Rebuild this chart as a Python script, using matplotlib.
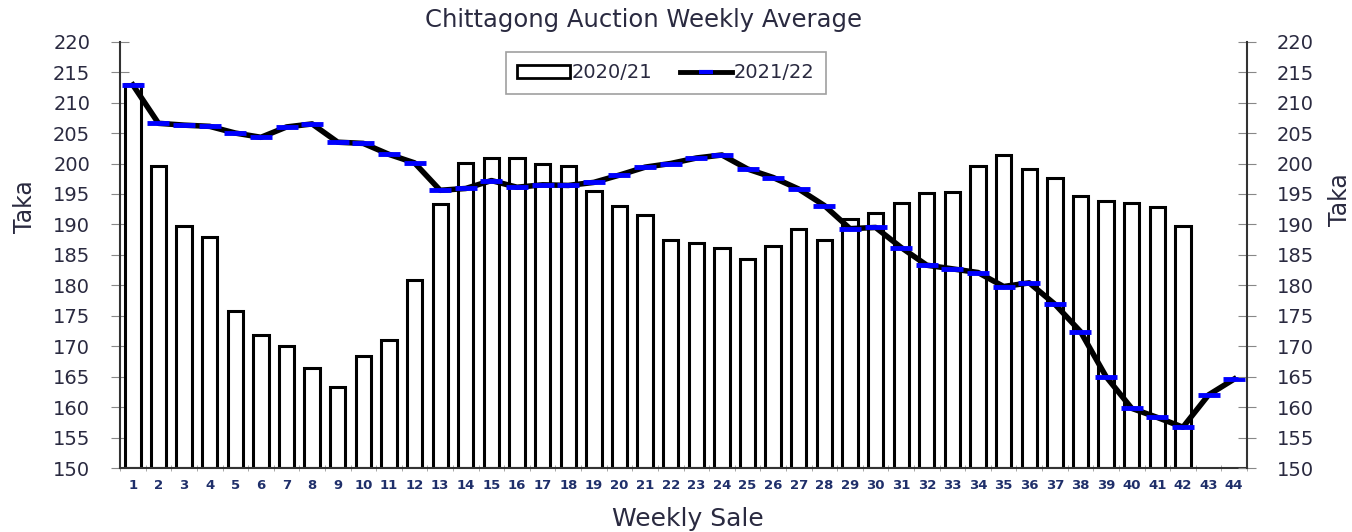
import numpy as np
import matplotlib
matplotlib.use('Agg')
import matplotlib.pyplot as plt
from matplotlib.patches import Patch
from matplotlib.lines import Line2D

weeks = list(range(1, 45))
# 2020/21 bars (only 42 weeks)
sale_2021 = [213.0, 199.6, 189.7, 187.9, 175.8, 171.9, 170.1, 166.5, 163.3, 168.4,
             171.1, 180.8, 193.4, 200.1, 200.9, 200.9, 200.0, 199.6, 195.5, 193.0,
             191.6, 187.5, 186.9, 186.1, 184.4, 186.5, 189.3, 187.5, 190.9, 191.8,
             193.5, 195.1, 195.3, 199.6, 201.4, 199.1, 197.7, 194.6, 193.9, 193.5,
             192.8, 189.7]
# 2021/22 line
sale_2122 = [212.9, 206.6, 206.3, 206.1, 205.0, 204.3, 206.0, 206.5, 203.5, 203.3,
             201.5, 200.1, 195.6, 195.9, 197.2, 196.1, 196.5, 196.4, 196.9, 198.1,
             199.4, 200.0, 200.9, 201.4, 199.1, 197.7, 195.8, 193.1, 189.3, 189.5,
             186.2, 183.3, 182.7, 182.1, 179.8, 180.4, 176.9, 172.4, 165.0, 159.8,
             158.3, 156.7, 162.0, 164.6]
yticks = list(range(150, 221, 5))

txt = '#2a2a40'
plt.rcParams['font.family'] = ['DejaVu Sans']

fig = plt.figure(figsize=(13.52, 5.32), dpi=100)
ax = fig.add_axes([0.0888, 0.1203, 0.8335, 0.8013])

ax.bar(weeks[:len(sale_2021)], [v - 150 for v in sale_2021], bottom=150, width=0.6,
       facecolor='white', edgecolor='black', linewidth=2.2, zorder=2)
ax.plot(weeks, sale_2122, color='black', linewidth=4, zorder=3, solid_joinstyle='round')
ax.plot(weeks, sale_2122, linestyle='none', marker='_', markersize=16,
        markeredgewidth=3.5, color='#0000ff', zorder=4)

ax.set_xlim(0.5, 44.5)
ax.set_ylim(150, 220)
ax.set_yticks(yticks)
ax.set_xticks(weeks)
ax.set_xticks(np.arange(0.5, 45, 1), minor=True)
ax.tick_params(axis='x', which='major', length=0, pad=8, labelsize=9.5, labelcolor='#1f2f6a')
ax.tick_params(axis='x', which='minor', length=4, direction='inout', color='#999999')
for t in ax.get_xticklabels():
    t.set_fontweight('bold')
ax.tick_params(axis='y', direction='inout', length=13, color='#888888', labelsize=14,
               labelcolor=txt, pad=15)
for s in ['top', 'right']:
    ax.spines[s].set_visible(False)
ax.spines['left'].set_color('#333333')
ax.spines['left'].set_linewidth(1.5)
ax.spines['bottom'].set_color('#333333')
ax.spines['bottom'].set_linewidth(1.5)

ax2 = ax.twinx()
ax2.set_ylim(150, 220)
ax2.set_yticks(yticks)
ax2.tick_params(axis='y', direction='inout', length=13, color='#888888', labelsize=14,
                labelcolor=txt, pad=15)
for s in ['top', 'left', 'bottom']:
    ax2.spines[s].set_visible(False)
ax2.spines['right'].set_color('#333333')
ax2.spines['right'].set_linewidth(1.5)

ax.set_ylabel('Taka', fontsize=17, color=txt)
ax2.set_ylabel('Taka', fontsize=17, color=txt)
ax.yaxis.set_label_coords(-0.0736, 0.613)
ax2.yaxis.set_label_coords(1.072, 0.63)
ax.set_xlabel('Weekly Sale', fontsize=18, color=txt)
ax.xaxis.set_label_coords(0.504, -0.092)
fig.text(0.476, 0.962, 'Chittagong Auction Weekly Average', ha='center', va='center',
         fontsize=17.5, color=txt)

handles = [Patch(facecolor='white', edgecolor='black', linewidth=2),
           Line2D([0], [0], color='black', linewidth=3.5, marker='_', markersize=10,
                  markeredgewidth=3, markeredgecolor='#0000ff')]
leg = ax.legend(handles, ['2020/21', '2021/22'], loc='upper left',
                bbox_to_anchor=(0.337, 0.99), ncol=2, frameon=True, fancybox=False,
                edgecolor='#888888', handlelength=2.7, handletextpad=0.1,
                columnspacing=1.4, borderpad=0.6, borderaxespad=0.3,
                prop={'size': 14})
for t in leg.get_texts():
    t.set_color(txt)
leg.get_frame().set_linewidth(1.2)

fig.savefig('out.png', dpi=100)
